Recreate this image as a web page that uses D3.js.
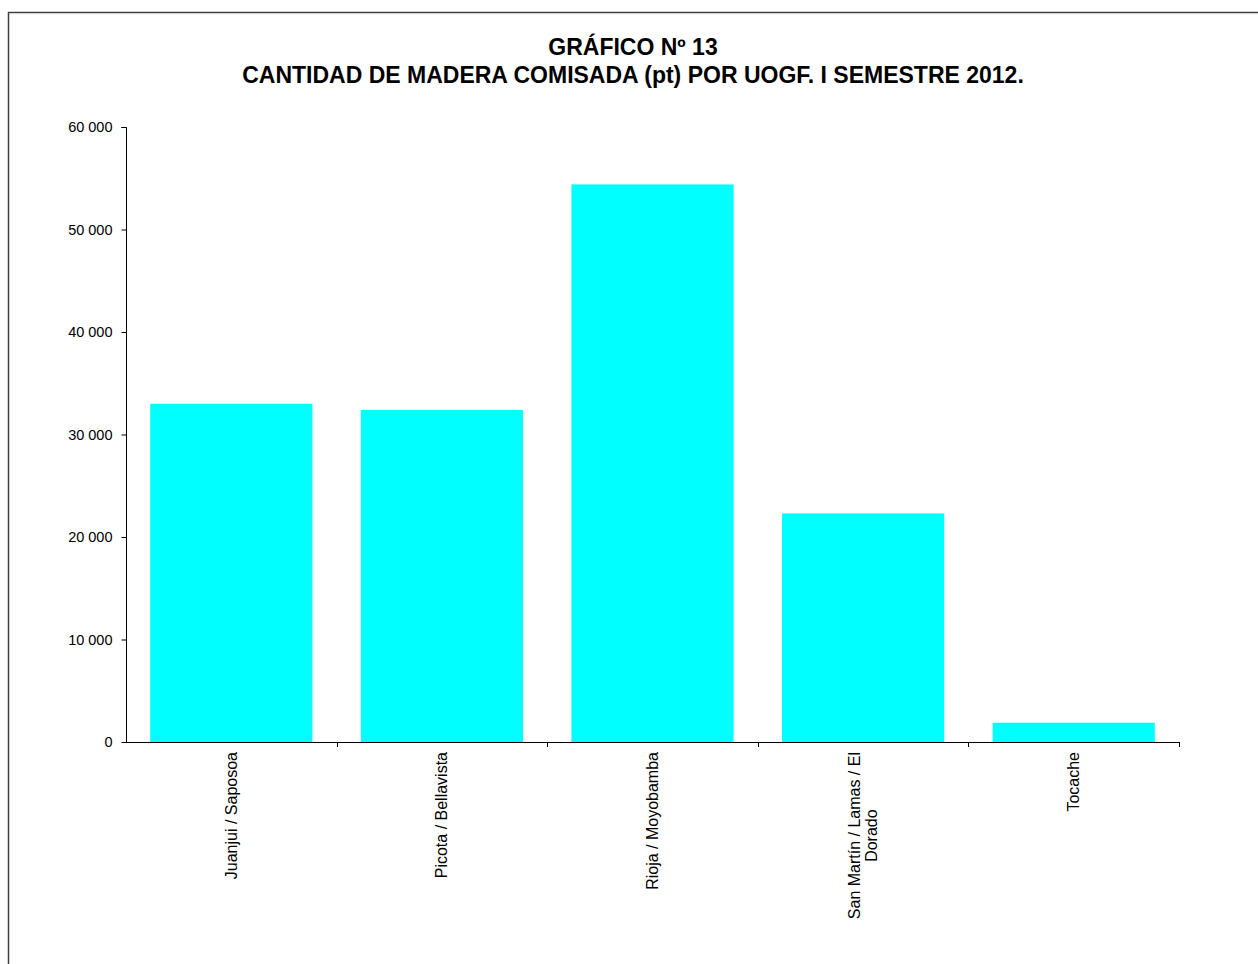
<!DOCTYPE html>
<html><head><meta charset="utf-8">
<script src="https://cdn.jsdelivr.net/npm/d3@7"></script>
<style>body{margin:0;background:#fff;} svg{display:block;font-family:"Liberation Sans",Arial,sans-serif;}</style>
</head><body>
<script>
const categories = ["Juanjui / Saposoa", "Picota / Bellavista", "Rioja / Moyobamba", "San Martín / Lamas / El Dorado", "Tocache"];
const categoryLines = [["Juanjui / Saposoa"], ["Picota / Bellavista"], ["Rioja / Moyobamba"], ["San Martín / Lamas / El", "Dorado"], ["Tocache"]];
const values = [33000, 32400, 54400, 22300, 1880];
const yTicks = [0, 10000, 20000, 30000, 40000, 50000, 60000];
const titleLines = ["GRÁFICO Nº 13", "CANTIDAD DE MADERA COMISADA (pt) POR UOGF. I SEMESTRE 2012."];

(function () {
const W = 1258, H = 964;
const svg = d3.select("body").append("svg").attr("width", W).attr("height", H);
svg.append("rect").attr("x", 8.5).attr("y", 12.5).attr("width", W + 10).attr("height", H + 10)
  .attr("fill", "#fff").attr("stroke", "#404040").attr("stroke-width", 1.5);

const pLeft = 126, pRight = 1179, pTop = 127, pBottom = 742;
const x = d3.scaleBand().domain(categories).range([pLeft, pRight]).paddingInner(0.23).paddingOuter(0.115);
const y = d3.scaleLinear().domain([0, 60000]).range([pBottom, pTop]);

svg.append("g").selectAll("rect").data(values).join("rect")
  .attr("x", (d, i) => x(categories[i])).attr("width", x.bandwidth())
  .attr("y", d => y(d)).attr("height", d => y(0) - y(d)).attr("fill", "#00FFFF");

const fmt = d => d3.format(",")(d).replace(/,/g, " ");
const yAxis = svg.append("g").attr("transform", `translate(${pLeft + 0.5},0)`)
  .call(d3.axisLeft(y).tickValues(yTicks).tickFormat(fmt).tickSize(5).tickPadding(9));
yAxis.select(".domain").attr("stroke", "#000").attr("d", `M-5,${pTop + 0.5}H0V${pBottom + 0.5}`);
yAxis.selectAll("text").attr("font-size", 14.5).attr("fill", "#000").attr("font-family", "Liberation Sans, Arial, sans-serif");
yAxis.selectAll("line").attr("stroke", "#000");

// x axis line + boundary ticks
const step = x.step();
const boundaries = d3.range(categories.length + 1).map(i => pLeft + i * step);
const xg = svg.append("g");
xg.append("line").attr("x1", pLeft).attr("x2", pRight + 0.5).attr("y1", pBottom + 0.5).attr("y2", pBottom + 0.5).attr("stroke", "#000");
xg.selectAll("line.t").data(boundaries.slice(1)).join("line").attr("class", "t")
  .attr("x1", d => Math.round(d) + 0.5).attr("x2", d => Math.round(d) + 0.5)
  .attr("y1", pBottom).attr("y2", pBottom + 5).attr("stroke", "#000");

// rotated category labels
const fs = 16;
categories.forEach((c, i) => {
  const cx = x(c) + x.bandwidth() / 2;
  const lines = categoryLines[i];
  const lh = 17;
  const n = lines.length;
  const g = svg.append("g").attr("transform", `translate(${cx},${pBottom + 10}) rotate(-90)`);
  const t0 = g.append("text").attr("text-anchor", "end").attr("font-size", fs).attr("fill", "#000")
    .attr("x", 0).attr("y", -(n - 1) * lh / 2 + 5.5).text(lines[0]);
  const L = t0.node().getComputedTextLength();
  for (let k = 1; k < n; k++) {
    g.append("text").attr("text-anchor", "middle").attr("font-size", fs).attr("fill", "#000")
      .attr("x", -L / 2).attr("y", -(n - 1) * lh / 2 + k * lh + 5.5).text(lines[k]);
  }
});

// title
titleLines.forEach((t, i) => {
  svg.append("text").attr("x", 633).attr("y", 55 + i * 28).attr("text-anchor", "middle")
    .attr("font-size", 23).attr("font-weight", "bold").attr("fill", "#000").text(t);
});
})();
</script>
</body></html>
